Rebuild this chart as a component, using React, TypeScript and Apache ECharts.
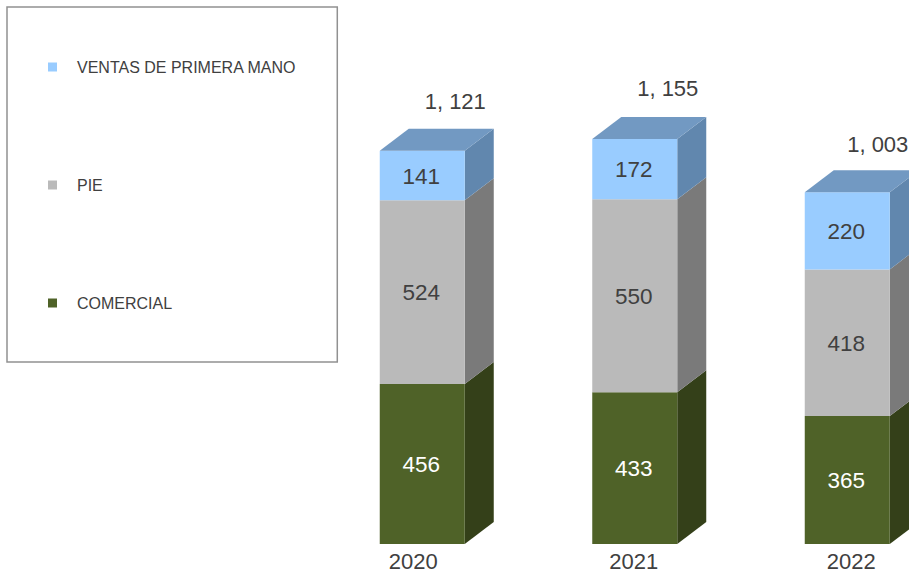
import React, { useEffect, useRef } from "react";
import * as echarts from "echarts";

const years = ["2020", "2021", "2022"];
const comercial = [456, 433, 365];
const pie = [524, 550, 418];
const ventas = [141, 172, 220];
const totals = [1121, 1155, 1003];
const totalLabels = ["1, 121", "1, 155", "1, 003"];

const FONT = "'Liberation Sans', Arial, sans-serif";
const TEXT = "#404040";
const DX = 29;
const DY = 22;

function segmentSeries(
  name: string,
  values: number[],
  below: number[],
  color: string,
  side: string,
  top: string | null,
  labelColor: string
) {
  return {
    type: "custom",
    name,
    itemStyle: { color },
    clip: false,
    data: values.map((v, i) => [i, below[i], below[i] + v, v]),
    renderItem: (_p: any, api: any) => {
      const w = api.size([1, 0])[0] * 0.4;
      const [cx, y0] = api.coord([api.value(0), api.value(1)]);
      const [, y1] = api.coord([api.value(0), api.value(2)]);
      const x = cx - w / 2;
      const children: any[] = [
        {
          type: "polygon",
          shape: { points: [[x + w, y1], [x + w + DX, y1 - DY], [x + w + DX, y0 - DY], [x + w, y0]] },
          style: { fill: side },
        },
        { type: "rect", shape: { x, y: y1, width: w, height: y0 - y1 }, style: { fill: color } },
        {
          type: "text",
          x: cx - 1,
          y: (y0 + y1) / 2 + 0.7,
          style: {
            text: String(api.value(3)),
            fill: labelColor,
            font: `22.5px ${FONT}`,
            align: "center",
            verticalAlign: "middle",
          },
        },
      ];
      if (top) {
        children.push({
          type: "polygon",
          shape: { points: [[x, y1], [x + DX, y1 - DY], [x + w + DX, y1 - DY], [x + w, y1]] },
          style: { fill: top },
        });
      }
      return { type: "group", children };
    },
  };
}

export default function App() {
  const ref = useRef<HTMLDivElement>(null);
  useEffect(() => {
    const chart = echarts.init(ref.current!, null, { renderer: "svg" });
    const belowPie = comercial;
    const belowVentas = comercial.map((v, i) => v + pie[i]);
    const yearPadding: Record<string, number[]> = {
      a: [0, 18, 0, 0],
      b: [0, 2, 0, 0],
      c: [0, 0, 0, 8],
    };
    const totalShift = [[33, -49.5], [33, -50.5], [30.5, -47.5]];
    chart.setOption({
      animation: false,
      backgroundColor: "#ffffff",
      grid: { left: 316, width: 637.5, top: 53, height: 491, outerBoundsMode: "none" },
      legend: {
        left: 7,
        top: 7,
        orient: "vertical",
        data: ["VENTAS DE PRIMERA MANO", "PIE", "COMERCIAL"],
        icon: "rect",
        itemWidth: 9,
        itemHeight: 9,
        itemGap: 100,
        padding: [51, 41, 50, 41],
        borderColor: "#919191",
        borderWidth: 1.5,
        selectedMode: false,
        textStyle: { color: TEXT, fontFamily: FONT, fontSize: 16, padding: [1, 0, 0, 15], lineHeight: 17 },
      },
      xAxis: {
        type: "category",
        data: years,
        axisLine: { show: false },
        axisTick: { show: false },
        axisLabel: {
          margin: 6,
          formatter: (v: string) => `{${"abc"[years.indexOf(v)]}|${v}}`,
          rich: Object.fromEntries(
            Object.entries(yearPadding).map(([k, padding]) => [
              k,
              { padding, fontFamily: FONT, fontSize: 22, color: TEXT },
            ])
          ),
        },
      },
      yAxis: { type: "value", min: 0, max: 1400, show: false, splitLine: { show: false } },
      series: [
        segmentSeries("COMERCIAL", comercial, [0, 0, 0], "#4F6228", "#344019", null, "#ffffff"),
        segmentSeries("PIE", pie, belowPie, "#BABABA", "#7A7A7A", null, TEXT),
        segmentSeries("VENTAS DE PRIMERA MANO", ventas, belowVentas, "#99CCFF", "#6187AE", "#7299C2", TEXT),
        {
          type: "custom",
          name: "Total",
          clip: false,
          data: totals.map((t, i) => [i, t]),
          renderItem: (_p: any, api: any) => {
            const i = api.value(0);
            const [cx, y] = api.coord([i, api.value(1)]);
            return {
              type: "text",
              x: cx + totalShift[i][0],
              y: y + totalShift[i][1],
              style: {
                text: totalLabels[i],
                fill: TEXT,
                font: `22px ${FONT}`,
                align: "center",
                verticalAlign: "middle",
              },
            };
          },
        },
      ],
    });
    return () => chart.dispose();
  }, []);
  return <div ref={ref} style={{ position: "absolute", left: 0, top: 0, width: 909, height: 576 }} />;
}
